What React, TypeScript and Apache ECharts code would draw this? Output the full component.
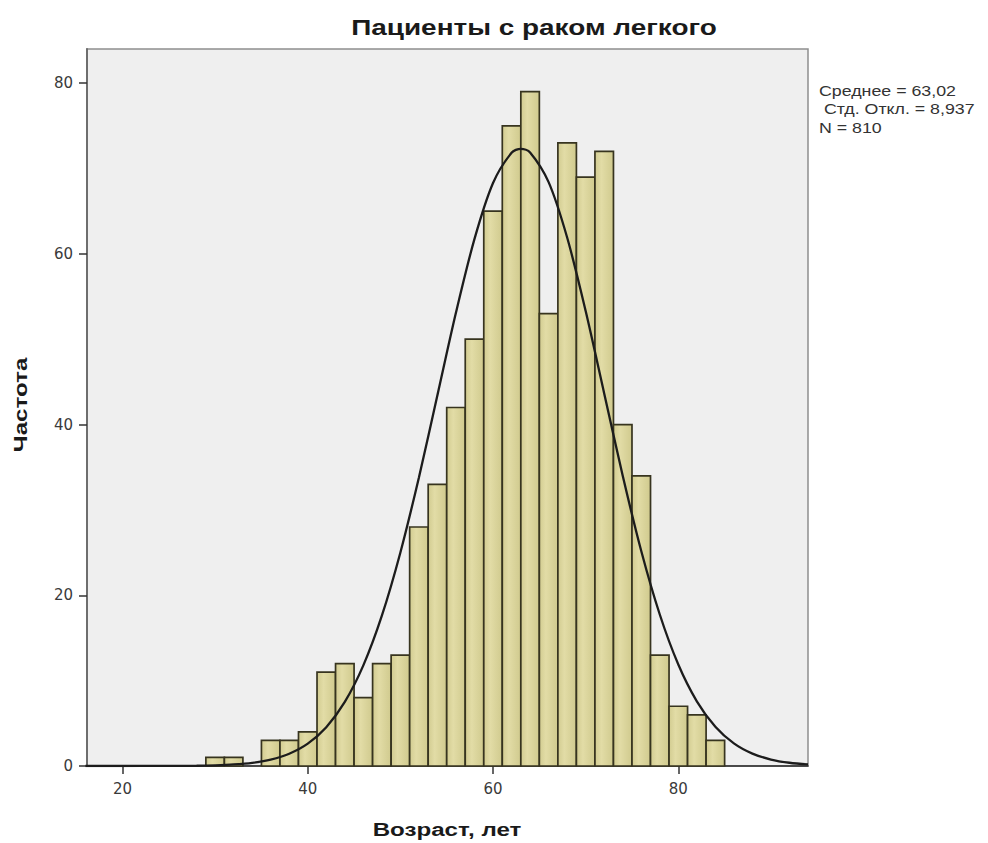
import React, { useEffect, useRef } from "react";
import * as echarts from "echarts";

// Histogram bins (age, years): start of each 2-year bin and counts
const binStarts = [29, 31, 33, 35, 37, 39, 41, 43, 45, 47, 49, 51, 53, 55, 57, 59, 61, 63, 65, 67, 69, 71, 73, 75, 77, 79, 81, 83];
const binWidth = 2;
const counts = [1, 1, 0, 3, 3, 4, 11, 12, 8, 12, 13, 28, 33, 42, 50, 65, 75, 79, 53, 73, 69, 72, 40, 34, 13, 7, 6, 3];

// Fitted normal curve
const curveX = [16, 20, 24, 28, 30, 32, 34, 36, 38, 40, 42, 44, 46, 48, 50, 52, 54, 56, 58, 60, 62, 63, 64, 66, 68, 70, 72, 74, 76, 78, 80, 82, 84, 86, 88, 90, 92, 94];
const curveY = [0, 0, 0.01, 0.03, 0.08, 0.18, 0.37, 0.75, 1.44, 2.62, 4.55, 7.51, 11.79, 17.61, 25.02, 33.81, 43.45, 53.12, 61.75, 68.3, 71.84, 72.31, 71.88, 68.4, 61.91, 53.3, 43.65, 34.0, 25.19, 17.75, 11.89, 7.58, 4.6, 2.65, 1.45, 0.76, 0.38, 0.18];

const xTicks = [20, 40, 60, 80];
const yTicks = [0, 20, 40, 60, 80];

const titleText = "Пациенты с раком легкого";
const xName = "Возраст, лет";
const yName = "Частота";
const statsLines = ["Среднее = 63,02", " Стд. Откл. = 8,937", "N = 810"];

export default function App() {
  const ref = useRef<HTMLDivElement>(null);

  useEffect(() => {
    if (!ref.current) return;
    const chart = echarts.init(ref.current, null, { renderer: "svg" });

    const barData = binStarts.map((s, i) => [s, s + binWidth, counts[i]]);
    const lineData = curveX.map((x, i) => [x, curveY[i]]);

    const barFill = new echarts.graphic.LinearGradient(0, 0, 1, 0, [
      { offset: 0, color: "#D2CC91" },
      { offset: 0.35, color: "#E2DCA6" },
      { offset: 1, color: "#D0CA8E" },
    ]);

    const SX = 1.27;
    const font = "Liberation Sans, Arial, sans-serif";

    chart.setOption({
      animation: false,
      backgroundColor: "#ffffff",
      grid: {
        left: 87,
        right: 180,
        top: 49,
        bottom: 77,
        show: true,
        backgroundColor: "#EFEFEF",
        borderColor: "#8f8f8f",
        borderWidth: 1.5,
      },
      xAxis: {
        type: "value",
        min: 16.17,
        max: 94,
        splitLine: { show: false },
        axisLine: { show: true, onZero: false, lineStyle: { color: "#2a2a2a", width: 1.5 } },
        axisTick: { show: true, length: 8, customValues: xTicks, lineStyle: { color: "#333", width: 1.5 } },
        axisLabel: {
          customValues: xTicks,
          margin: 15,
          color: "#3a3a3a",
          fontSize: 15,
          fontFamily: "DejaVu Sans",
        },
      },
      yAxis: {
        type: "value",
        min: 0,
        max: 84,
        splitLine: { show: false },
        axisLine: { show: true, lineStyle: { color: "#6e6e6e", width: 2 } },
        axisTick: { show: true, length: 8, customValues: yTicks, lineStyle: { color: "#333", width: 1.5 } },
        axisLabel: {
          customValues: yTicks,
          margin: 14,
          color: "#3a3a3a",
          fontSize: 15,
          fontFamily: "DejaVu Sans",
        },
      },
      series: [
        {
          type: "custom",
          data: barData,
          encode: { x: [0, 1], y: 2 },
          renderItem: (params: any, api: any) => {
            const c = api.value(2);
            if (!c) return null;
            const p0 = api.coord([api.value(0), c]);
            const p1 = api.coord([api.value(1), 0]);
            return {
              type: "rect",
              shape: { x: p0[0], y: p0[1], width: p1[0] - p0[0], height: p1[1] - p0[1] },
              style: { fill: barFill, stroke: "#37341f", lineWidth: 1.7 },
            };
          },
          z: 2,
        },
        {
          type: "line",
          data: lineData,
          smooth: 0.3,
          showSymbol: false,
          lineStyle: { color: "#1c1c1c", width: 2.3 },
          z: 3,
        },
      ],
      graphic: [
        {
          type: "text",
          x: 534,
          y: 27,
          scaleX: SX,
          style: {
            text: titleText,
            font: `bold 22px ${font}`,
            fill: "#1a1a1a",
            align: "center",
            verticalAlign: "middle",
          },
        },
        {
          type: "text",
          x: 447,
          y: 829,
          scaleX: SX,
          style: {
            text: xName,
            font: `bold 19px ${font}`,
            fill: "#1a1a1a",
            align: "center",
            verticalAlign: "middle",
          },
        },
        {
          type: "text",
          x: 20,
          y: 405,
          rotation: Math.PI / 2,
          scaleX: SX,
          style: {
            text: yName,
            font: `bold 19px ${font}`,
            fill: "#1a1a1a",
            align: "center",
            verticalAlign: "middle",
          },
        },
        ...statsLines.map((t, i) => ({
          type: "text",
          x: 819,
          y: 91 + i * 18.5,
          scaleX: SX,
          style: {
            text: t,
            font: `14px ${font}`,
            fill: "#333",
            align: "left",
            verticalAlign: "middle",
          },
        })),
      ],
    });

    return () => chart.dispose();
  }, []);

  return (
    <div
      ref={ref}
      style={{ position: "absolute", left: 0, top: 0, width: 988, height: 843 }}
    />
  );
}
